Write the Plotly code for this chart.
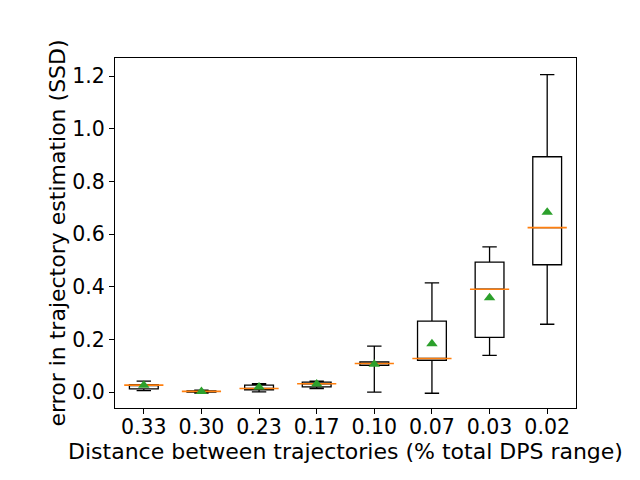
import plotly.graph_objects as go

categories = ["0.33", "0.30", "0.23", "0.17", "0.10", "0.07", "0.03", "0.02"]
lower = [0.006, -0.003, 0.001, 0.014, 0.000, -0.004, 0.140, 0.258]
q1 = [0.013, 0.000, 0.009, 0.020, 0.102, 0.121, 0.208, 0.484]
median = [0.027, 0.003, 0.014, 0.032, 0.109, 0.128, 0.391, 0.625]
q3 = [0.029, 0.005, 0.027, 0.038, 0.115, 0.270, 0.494, 0.894]
upper = [0.042, 0.008, 0.032, 0.042, 0.175, 0.415, 0.552, 1.206]
means = [0.026, 0.003, 0.020, 0.031, 0.106, 0.184, 0.359, 0.683]

font = "DejaVu Sans"
orange = "#ff7f0e"
green = "#2ca02c"

fig = go.Figure()
fig.add_trace(go.Box(
    x=categories, q1=q1, median=median, q3=q3,
    lowerfence=lower, upperfence=upper,
    fillcolor="white", line=dict(color="black", width=1.3),
    whiskerwidth=0.5, width=0.5, boxpoints=False, showlegend=False,
    hoverinfo="skip",
))
# orange median lines
fig.add_trace(go.Scatter(
    x=categories, y=median, mode="markers",
    marker=dict(symbol="line-ew-open", size=28, color=orange,
                line=dict(color=orange, width=1.6)),
    showlegend=False,
))
# green mean triangles
fig.add_trace(go.Scatter(
    x=categories, y=means, mode="markers",
    marker=dict(symbol="triangle-up", size=10, color=green),
    showlegend=False,
))

# the page body adds 8px around the plot, so margins are shifted by 8
fig.update_layout(
    width=640, height=480,
    margin=dict(l=107, r=72, t=50, b=80),
    plot_bgcolor="white", paper_bgcolor="white",
    font=dict(family=font, size=18.5, color="black"),
    xaxis=dict(
        type="category", range=[-0.5, 7.5], automargin=False,
        showline=True, linecolor="black", linewidth=1, mirror=True,
        ticks="outside", ticklen=5, tickcolor="black", showgrid=False,
        ticklabelstandoff=-5,
        title=dict(text="Distance between trajectories (% total DPS range)", standoff=0),
        tickfont=dict(size=20.5),
    ),
    yaxis=dict(
        range=[-0.06, 1.269], automargin=False,
        tickvals=[0.0, 0.2, 0.4, 0.6, 0.8, 1.0, 1.2],
        ticktext=["0.0", "0.2", "0.4", "0.6", "0.8", "1.0", "1.2"],
        showline=True, linecolor="black", linewidth=1, mirror=True,
        ticks="outside", ticklen=5, tickcolor="black", showgrid=False,
        zeroline=False,
        title=dict(text="error in trajectory estimation (SSD)", standoff=0),
        tickfont=dict(size=20.5),
    ),
)

fig.write_html("out.html")
